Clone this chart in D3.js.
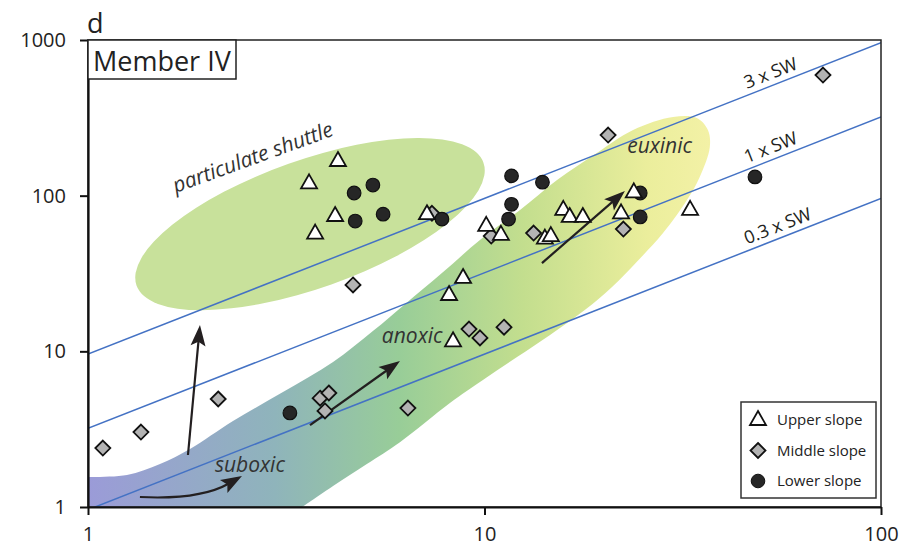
<!DOCTYPE html>
<html>
<head>
<meta charset="utf-8">
<script src="https://cdn.jsdelivr.net/npm/d3@7"></script>
<style>
body { margin: 0; background: #fff; }
svg { font-family: 'Open Sans', sans-serif; }
</style>
</head>
<body>
<svg width="919" height="550"></svg>
<script>
// axes: x = TOC, y = Mo, both log
const xTicks = [1, 10, 100]
const yTicks = [1, 10, 100, 1000]

const series = ['Upper slope', 'Middle slope', 'Lower slope']

const upperSlope = [
    [4.27, 167], [3.61, 120], [4.20, 74], [3.74, 57], [7.16, 76],
    [10.1, 64], [11.0, 56], [14.2, 53], [14.7, 55], [15.8, 81],
    [16.4, 73], [17.7, 73], [22.1, 77], [23.8, 105], [33.0, 81],
    [8.83, 29.6], [8.14, 23], [8.33, 11.6]
]
const middleSlope = [
    [71.4, 595], [20.5, 245], [22.4, 61], [13.3, 57.5], [10.4, 55],
    [7.37, 77], [4.66, 26.7], [9.14, 13.9], [9.74, 12.2], [11.2, 14.3],
    [3.85, 5.0], [4.05, 5.4], [3.96, 4.14], [6.41, 4.32], [1.09, 2.39],
    [1.36, 3.03], [2.13, 4.94]
]
const lowerSlope = [
    [4.69, 104], [5.23, 117], [4.72, 68.7], [5.55, 76], [7.81, 70.7],
    [11.7, 134], [14.0, 122], [11.7, 88], [11.5, 70.7], [24.7, 73],
    [24.7, 104], [48.1, 132], [3.23, 4.02]
]

// seawater Mo/TOC reference lines
const swRatio = 3.2
const swFactors = [3, 1, 0.3]
const swLabels = ['3 x SW', '1 x SW', '0.3 x SW']

// suboxic -> anoxic -> euxinic field, upper edge then lower edge
const bandUpper = [
    [1, 1.56], [1.254, 1.605], [1.519, 1.889], [1.808, 2.358], [2.321, 3.567],
    [3.103, 5.48], [4.15, 8.54], [5.23, 13.5], [6.30, 20.1], [7.81, 31.8],
    [9.74, 51.9], [12.29, 80.8], [15.24, 126], [19.2, 188], [23.7, 264],
    [29.9, 320], [34.3, 315], [36.6, 264], [37.0, 205]
]
const bandLower = [
    [34.9, 132], [32.4, 93.7], [28.2, 57.5], [24.2, 37.5], [20.97, 25.9],
    [17.9, 18.4], [14.6, 12.7], [12.08, 9.19], [9.91, 6.54], [8.18, 4.66],
    [6.12, 2.61], [5.05, 1.889], [4.15, 1.364], [3.47, 1]
]
const shuttleCenter = [3.63, 65.7]

const regionLabels = [
    { text: 'euxinic', at: [22.9, 188] },
    { text: 'anoxic', at: [5.51, 11.3] },
    { text: 'suboxic', at: [2.09, 1.68] }
]

const arrows = [
    { from: [1.787, 2.158], to: [1.916, 14.76] },
    { from: [3.63, 3.36], to: [6.12, 8.66] },
    { from: [13.96, 36.9], to: [22.6, 107] },
    { from: [1.352, 1.159], via: [1.916, 1.109], to: [2.445, 1.58] }
]

const svg = d3.select('svg')

const x = d3.scaleLog().domain([1, 100]).range([88, 881])
const y = d3.scaleLog().domain([1, 1000]).range([507, 40])
const px = d => x(d[0])
const py = d => y(d[1])

const ink = '#231f20'

svg.append('clipPath').attr('id', 'plot')
    .append('rect')
        .attr('x', x(1)).attr('y', y(1000))
        .attr('width', x(100) - x(1)).attr('height', y(1) - y(1000))

const grad = svg.append('defs').append('linearGradient')
    .attr('id', 'band')
    .attr('gradientUnits', 'userSpaceOnUse')
    .attr('x1', x(1)).attr('x2', x(37)).attr('y1', 0).attr('y2', 0)
grad.selectAll('stop')
    .data([[0, '#9b9bd8'], [0.3, '#8fb4bb'], [0.5, '#98cd98'], [0.7, '#c3de8e'], [0.9, '#ebee9c'], [1, '#f3f1a6']])
    .enter().append('stop')
        .attr('offset', d => d[0])
        .attr('stop-color', d => d[1])

const fields = svg.append('g').attr('clip-path', 'url(#plot)')

const bandLine = d3.line().x(px).y(py).curve(d3.curveCatmullRom)
fields.append('path')
    .attr('d', bandLine(bandUpper.concat(bandLower)) + `L${x(1)},${y(1)}Z`)
    .attr('fill', 'url(#band)')

fields.append('ellipse')
    .attr('transform', `translate(${px(shuttleCenter)},${py(shuttleCenter)}) rotate(-19.5)`)
    .attr('rx', 184)
    .attr('ry', 64)
    .attr('fill', '#c8e19b')

// SW lines
const slopeAngle = Math.atan2(y(1) - y(10), x(10) - x(1)) * 180 / Math.PI
const sw = svg.append('g').attr('clip-path', 'url(#plot)')
sw.selectAll('line')
    .data(swFactors)
    .enter().append('line')
        .attr('x1', x(1)).attr('y1', f => y(swRatio * f))
        .attr('x2', x(100)).attr('y2', f => y(swRatio * f * 100))
        .attr('stroke', '#4472c4')
        .attr('stroke-width', 1.5)

svg.selectAll('.swlabel')
    .data(swFactors)
    .enter().append('text')
        .attr('class', 'swlabel')
        .attr('transform', f => `translate(${x(46.5)},${y(swRatio * f * 46.5)}) rotate(${-slopeAngle})`)
        .attr('y', -6)
        .attr('font-size', 18)
        .attr('fill', ink)
        .text((f, i) => swLabels[i])

// arrows
function head(tip, ang) {
    const L = 21, w = 7.5
    const c = Math.cos(ang), s = Math.sin(ang)
    const bx = tip[0] - L * c, by = tip[1] - L * s
    const nx = tip[0] - 0.8 * L * c, ny = tip[1] - 0.8 * L * s
    return `M${tip[0]},${tip[1]}L${bx - w * s},${by + w * c}L${nx},${ny}L${bx + w * s},${by - w * c}Z`
}
const arrowG = svg.append('g')
arrows.forEach(a => {
    const p0 = [px(a.from), py(a.from)]
    const p1 = [px(a.to), py(a.to)]
    const ref = a.via ? [px(a.via), py(a.via)] : p0
    const ang = Math.atan2(p1[1] - ref[1], p1[0] - ref[0])
    const end = [p1[0] - 15 * Math.cos(ang), p1[1] - 15 * Math.sin(ang)]
    const d = a.via
        ? `M${p0}Q${ref} ${end}`
        : `M${p0}L${end}`
    arrowG.append('path')
        .attr('d', d)
        .attr('fill', 'none')
        .attr('stroke', ink)
        .attr('stroke-width', 2.2)
    arrowG.append('path')
        .attr('d', head(p1, ang))
        .attr('fill', ink)
})

// region labels
svg.selectAll('.region')
    .data(regionLabels)
    .enter().append('text')
        .attr('class', 'region')
        .attr('x', d => px(d.at))
        .attr('y', d => py(d.at))
        .attr('font-size', 21)
        .attr('font-style', 'italic')
        .attr('fill', '#333')
        .text(d => d.text)

svg.append('text')
    .attr('transform', `translate(${x(2.64)},${y(159.6)}) rotate(-20)`)
    .attr('text-anchor', 'middle')
    .attr('font-size', 21)
    .attr('font-style', 'italic')
    .attr('fill', '#333')
    .text('particulate shuttle')

// points
const tri = 'M0,-9L8,5L-8,5Z'
const dia = 'M0,-7.5L7.5,0L0,7.5L-7.5,0Z'

svg.append('g').selectAll('path')
    .data(middleSlope)
    .enter().append('path')
        .attr('transform', d => `translate(${px(d)},${py(d)})`)
        .attr('d', dia)
        .attr('fill', '#b3b3b3')
        .attr('stroke', '#111')
        .attr('stroke-width', 1.8)

svg.append('g').selectAll('circle')
    .data(lowerSlope)
    .enter().append('circle')
        .attr('cx', px)
        .attr('cy', py)
        .attr('r', 6.8)
        .attr('fill', '#262626')
        .attr('stroke', '#111')
        .attr('stroke-width', 1.2)

svg.append('g').selectAll('path')
    .data(upperSlope)
    .enter().append('path')
        .attr('transform', d => `translate(${px(d)},${py(d)})`)
        .attr('d', tri)
        .attr('fill', '#fff')
        .attr('stroke', '#111')
        .attr('stroke-width', 1.8)
        .attr('stroke-linejoin', 'miter')

// frame and axes
svg.append('rect')
    .attr('x', x(1)).attr('y', y(1000))
    .attr('width', x(100) - x(1)).attr('height', y(1) - y(1000))
    .attr('fill', 'none')
    .attr('stroke', '#222')
    .attr('stroke-width', 1.5)

const xAxis = svg.append('g')
    .attr('transform', `translate(0,${y(1)})`)
    .call(d3.axisBottom(x).tickValues(xTicks).tickFormat(d3.format('d'))
        .tickSize(8).tickPadding(12).tickSizeOuter(0))
const yAxis = svg.append('g')
    .attr('transform', `translate(${x(1)},0)`)
    .call(d3.axisLeft(y).tickValues(yTicks).tickFormat(d3.format('d'))
        .tickSize(8).tickPadding(14).tickSizeOuter(0))

;[xAxis, yAxis].forEach(a => {
    a.attr('font-family', "'Open Sans', sans-serif").attr('font-size', 20)
    a.select('.domain').attr('stroke', '#111').attr('stroke-width', 2.2)
    a.selectAll('.tick line').attr('stroke', '#111').attr('stroke-width', 2)
    a.selectAll('.tick text').attr('fill', '#222')
})

// panel label and member box
svg.append('text')
    .attr('x', 87).attr('y', 33)
    .attr('font-size', 27)
    .attr('fill', '#222')
    .text('d')

svg.append('rect')
    .attr('x', x(1)).attr('y', y(1000))
    .attr('width', 148).attr('height', 39)
    .attr('fill', '#fff')
    .attr('stroke', '#222')
    .attr('stroke-width', 1.5)
svg.append('text')
    .attr('x', x(1) + 5).attr('y', y(1000) + 31)
    .attr('font-size', 27)
    .attr('fill', '#222')
    .text('Member IV')

// legend
const legend = svg.append('g').attr('transform', 'translate(741,402)')
legend.append('rect')
    .attr('width', 135).attr('height', 96)
    .attr('fill', '#fff')
    .attr('stroke', '#333')
    .attr('stroke-width', 1.5)
const entry = legend.selectAll('.entry')
    .data(series)
    .enter().append('g')
        .attr('class', 'entry')
        .attr('transform', (d, i) => `translate(17,${18 + i * 30.5})`)
entry.each(function (d, i) {
    const g = d3.select(this)
    if (i === 0) g.append('path').attr('d', tri).attr('fill', '#fff').attr('stroke', '#111').attr('stroke-width', 1.8)
    if (i === 1) g.append('path').attr('d', dia).attr('fill', '#b3b3b3').attr('stroke', '#111').attr('stroke-width', 1.8)
    if (i === 2) g.append('circle').attr('r', 6.8).attr('fill', '#262626').attr('stroke', '#111')
})
entry.append('text')
    .attr('x', 19)
    .attr('dy', '0.35em')
    .attr('font-size', 15)
    .attr('fill', '#222')
    .text(d => d)
</script>
</body>
</html>
